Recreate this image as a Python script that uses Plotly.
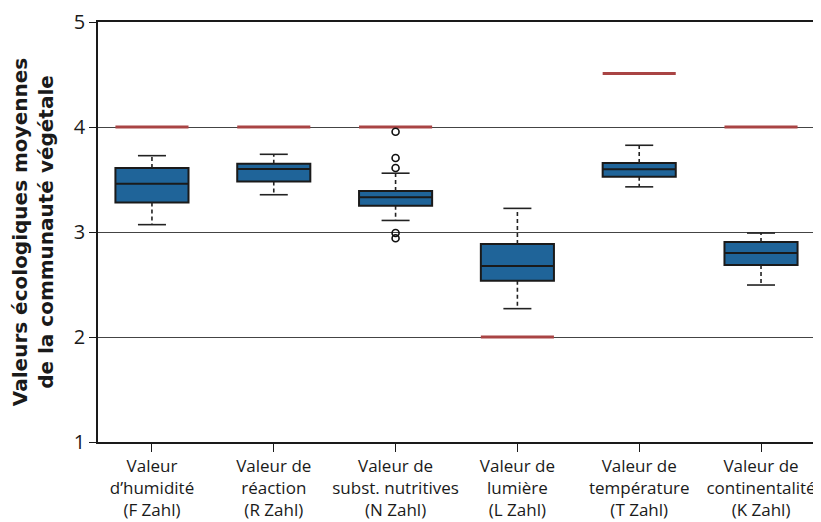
import plotly.graph_objects as go

categories = ["Valeur<br>d’humidité<br>(F Zahl)", "Valeur de<br>réaction<br>(R Zahl)",
              "Valeur de<br>subst. nutritives<br>(N Zahl)", "Valeur de<br>lumière<br>(L Zahl)",
              "Valeur de<br>température<br>(T Zahl)", "Valeur de<br>continentalité<br>(K Zahl)"]
lower_whisker = [3.07, 3.355, 3.11, 2.27, 3.43, 2.495]
q1 = [3.28, 3.48, 3.25, 2.536, 3.527, 2.686]
median = [3.46, 3.60, 3.33, 2.676, 3.597, 2.80]
q3 = [3.61, 3.65, 3.39, 2.886, 3.657, 2.905]
upper_whisker = [3.727, 3.74, 3.56, 3.225, 3.826, 2.99]
reference = [4.0, 4.0, 4.0, 2.0, 4.51, 4.0]
outlier_cat = [2, 2, 2, 2, 2]
outlier_val = [3.955, 3.705, 3.61, 2.99, 2.94]
y_ticks = [1, 2, 3, 4, 5]

idx = list(range(len(categories)))
BOX_W = 0.6
CAP_W = 0.115

fig = go.Figure()

# reference values (red bars)
for i, r in zip(idx, reference):
    fig.add_trace(go.Scatter(x=[i - BOX_W / 2, i + BOX_W / 2], y=[r, r], mode="lines",
                             line=dict(color="#a94444", width=3), showlegend=False, hoverinfo="skip"))

# whiskers (dashed) and caps
for i in idx:
    fig.add_trace(go.Scatter(x=[i, i, None, i, i], y=[q3[i], upper_whisker[i], None, q1[i], lower_whisker[i]],
                             mode="lines", line=dict(color="#222222", width=1.6, dash="4px,3px"),
                             showlegend=False, hoverinfo="skip"))
    fig.add_trace(go.Scatter(x=[i - CAP_W, i + CAP_W, None, i - CAP_W, i + CAP_W],
                             y=[upper_whisker[i], upper_whisker[i], None, lower_whisker[i], lower_whisker[i]],
                             mode="lines", line=dict(color="#222222", width=1.6),
                             showlegend=False, hoverinfo="skip"))

# boxes
fig.add_trace(go.Box(x=idx, q1=q1, median=median, q3=q3, lowerfence=q1, upperfence=q3,
                     width=BOX_W, fillcolor="#1f6499", line=dict(color="#1a1a1a", width=2),
                     whiskerwidth=0, boxpoints=False, showlegend=False))

# outliers
fig.add_trace(go.Scatter(x=outlier_cat, y=outlier_val, mode="markers",
                         marker=dict(symbol="circle-open", size=7, color="#111111", line=dict(width=1.6)),
                         showlegend=False))

fig.update_layout(
    width=813, height=514,
    margin=dict(l=90, r=2, t=14, b=80),
    paper_bgcolor="white", plot_bgcolor="white",
    font=dict(family="Open Sans, sans-serif", color="#1a1a1a"),
    xaxis=dict(range=[-0.443, 5.476], tickvals=idx, ticktext=categories, automargin=False,
               tickfont=dict(size=17), ticks="outside", ticklen=8, tickcolor="#1a1a1a",
               showline=True, linecolor="#1a1a1a", linewidth=1.5, mirror=True,
               ticklabeloverflow="allow", showgrid=False, zeroline=False),
    yaxis=dict(range=[1, 5], tickvals=y_ticks, tickfont=dict(size=20), ticks="outside", automargin=False,
               ticklen=7, tickcolor="#1a1a1a", showline=True, linecolor="#1a1a1a", linewidth=1.5,
               ticklabeloverflow="allow",
               mirror=True, showgrid=True, gridcolor="#444444", gridwidth=1, zeroline=False,
               title=dict(text="<b>Valeurs écologiques moyennes<br>de la communauté végétale</b>",
                          font=dict(size=20, family="DejaVu Sans, sans-serif"), standoff=16)),
)

fig.write_html("out.html")
